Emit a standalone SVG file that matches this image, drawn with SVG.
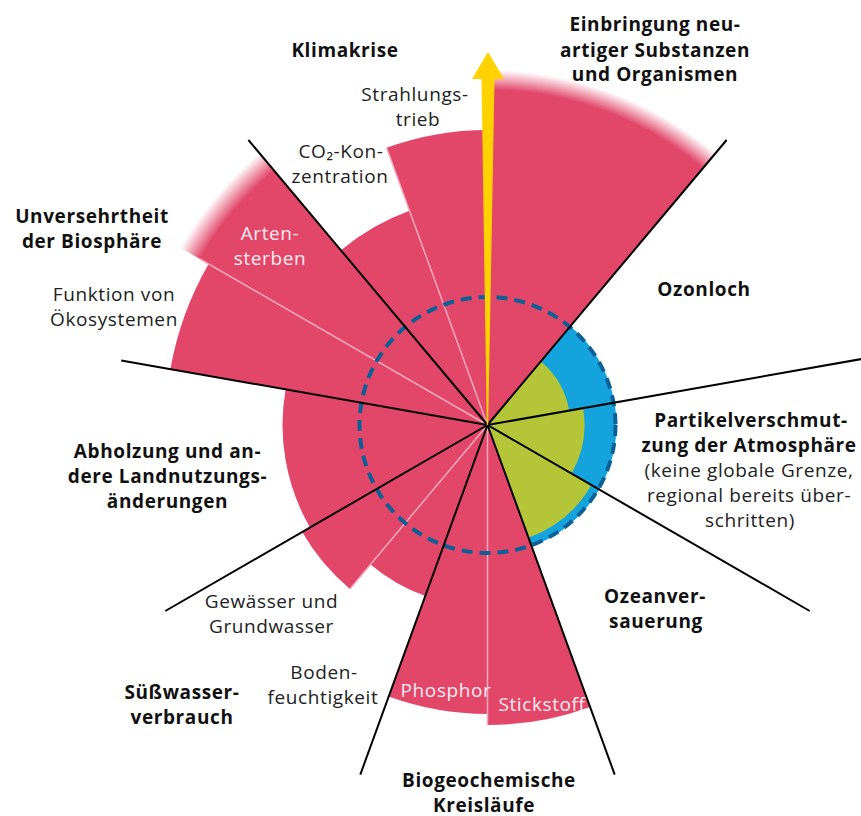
<svg xmlns="http://www.w3.org/2000/svg" width="861" height="816" viewBox="0 0 861 816">
<style>
.pink{fill:#E2476A}
.blue{fill:#14A3DC}
.green{fill:#B4C637}
.div{stroke:#F3A8BA;stroke-width:1.5;fill:none}
.spoke{stroke:#000;stroke-width:2;fill:none}
.b{font-family:"Open Sans","Liberation Sans",sans-serif;font-weight:700;font-size:19px;letter-spacing:0.6px;fill:#111;text-anchor:middle}
.r{font-family:"Open Sans","Liberation Sans",sans-serif;font-weight:400;font-size:19px;letter-spacing:0.6px;fill:#222;text-anchor:middle}
.w{font-family:"Open Sans","Liberation Sans",sans-serif;font-weight:400;font-size:19px;letter-spacing:0.6px;fill:#FDEBF0;text-anchor:middle}
</style>
<defs>
<radialGradient id="fadeA" gradientUnits="userSpaceOnUse" cx="487.5" cy="425" r="355">
<stop offset="0" stop-color="#E2476A"/>
<stop offset="0.944" stop-color="#E2476A"/>
<stop offset="1" stop-color="#E2476A" stop-opacity="0"/>
</radialGradient>
<radialGradient id="fadeB" gradientUnits="userSpaceOnUse" cx="487.5" cy="425" r="355">
<stop offset="0" stop-color="#E2476A"/>
<stop offset="0.935" stop-color="#E2476A"/>
<stop offset="1" stop-color="#E2476A" stop-opacity="0"/>
</radialGradient>
</defs>
<rect width="861" height="816" fill="#fff"/>

<g id="einbringung">
<path d="M487.5 425 L487.5 70 A355 355 0 0 1 715.7 153.1 Z" fill="url(#fadeA)"/>
<text class="b" x="655" y="31">Einbringung neu-</text>
<text class="b" x="655" y="56.5">artiger Substanzen</text>
<text class="b" x="655" y="81">und Organismen</text>
</g>

<g id="klimakrise">
<path class="pink" d="M487.5 425 L386.6 147.8 A295 295 0 0 1 487.5 130 Z"/>
<path class="pink" d="M487.5 425 L340.9 250.3 A228 228 0 0 1 409.5 210.8 Z"/>
<line class="div" x1="487.5" y1="425" x2="386.6" y2="147.8"/>
<text class="b" x="345" y="57">Klimakrise</text>
<text class="r" x="415" y="101">Strahlungs-</text>
<text class="r" x="418" y="126">trieb</text>
<text class="r" x="341" y="158">CO₂-Kon-</text>
<text class="r" x="340" y="183">zentration</text>
</g>

<g id="biosphaere">
<path d="M487.5 425 L180.1 247.5 A355 355 0 0 1 259.3 153.1 Z" fill="url(#fadeB)"/>
<path class="pink" d="M487.5 425 L170.4 369.1 A322 322 0 0 1 208.6 264 Z"/>
<line class="div" x1="487.5" y1="425" x2="200" y2="259"/>
<text class="b" x="92" y="223">Unversehrtheit</text>
<text class="b" x="92" y="248">der Biosphäre</text>
<text class="w" x="270" y="240">Arten-</text>
<text class="w" x="270" y="265">sterben</text>
<text class="r" x="114" y="301">Funktion von</text>
<text class="r" x="114" y="326">Ökosystemen</text>
</g>

<g id="landnutzung">
<path class="pink" d="M487.5 425 L310 527.5 A205 205 0 0 1 285.6 389.4 Z"/>
<text class="b" x="167.5" y="458">Abholzung und an-</text>
<text class="b" x="167.5" y="483">dere Landnutzungs-</text>
<text class="b" x="167.5" y="508">änderungen</text>
</g>

<g id="suesswasser">
<path class="pink" d="M487.5 425 L349.9 588.9 A214 214 0 0 1 302.2 532 Z"/>
<path class="pink" d="M487.5 425 L425.3 596 A182 182 0 0 1 370.5 564.4 Z"/>
<line class="div" x1="487.5" y1="425" x2="349.9" y2="588.9"/>
<text class="b" x="182" y="699">Süßwasser-</text>
<text class="b" x="182" y="724">verbrauch</text>
<text class="r" x="271.5" y="608">Gewässer und</text>
<text class="r" x="271.5" y="633">Grundwasser</text>
<text class="r" x="324" y="678.5">Boden-</text>
<text class="r" x="323" y="704">feuchtigkeit</text>
</g>

<g id="biogeochemie">
<path class="pink" d="M487.5 425 L487.5 714 A289 289 0 0 1 388.7 696.6 Z"/>
<path class="pink" d="M487.5 425 L590.1 706.9 A300 300 0 0 1 487.5 725 Z"/>
<line class="div" x1="487.5" y1="425" x2="487.5" y2="725"/>
<text class="w" x="446" y="696.5">Phosphor</text>
<text class="w" x="542" y="710.5">Stickstoff</text>
<text class="b" x="489" y="786.5">Biogeochemische</text>
<text class="b" x="484" y="811.5">Kreisläufe</text>
</g>

<g id="sicherer-bereich">
<path class="blue" d="M487.5 425 L570.4 326.2 A129 129 0 0 1 531.6 546.2 Z"/>
</g>

<g id="ozonloch">
<path class="green" d="M487.5 425 L540.9 361.4 A83 83 0 0 1 569.2 410.6 Z"/>
<text class="b" x="704" y="296">Ozonloch</text>
</g>

<g id="partikel">
<path class="green" d="M487.5 425 L583 408.2 A97 97 0 0 1 571.5 473.5 Z"/>
<text class="b" x="751" y="426.5">Partikelverschmut-</text>
<text class="b" x="749" y="451.5">zung der Atmosphäre</text>
<text class="r" x="749" y="477">(keine globale Grenze,</text>
<text class="r" x="749" y="501.5">regional bereits über-</text>
<text class="r" x="750" y="526.5">schritten)</text>
</g>

<g id="ozeanversauerung">
<path class="green" d="M487.5 425 L591.4 485 A120 120 0 0 1 528.5 537.8 Z"/>
<text class="b" x="655" y="603">Ozeanver-</text>
<text class="b" x="656" y="628">sauerung</text>
</g>

<g id="grenze">
<circle cx="487.5" cy="425" r="128" fill="none" stroke="#0B6196" stroke-width="4" stroke-dasharray="11 7"/>
</g>

<g id="connectors">
<line class="spoke" x1="487.5" y1="425" x2="726.6" y2="140"/>
<line class="spoke" x1="487.5" y1="425" x2="861.7" y2="359"/>
<line class="spoke" x1="487.5" y1="425" x2="809.7" y2="611"/>
<line class="spoke" x1="487.5" y1="425" x2="614.7" y2="774.6"/>
<line class="spoke" x1="487.5" y1="425" x2="360.3" y2="774.6"/>
<line class="spoke" x1="487.5" y1="425" x2="165.3" y2="611"/>
<line class="spoke" x1="487.5" y1="425" x2="121.2" y2="360.4"/>
<line class="spoke" x1="487.5" y1="425" x2="248.4" y2="140"/>
</g>

<g id="pfeil">
<polygon points="486.8,425 481.5,79 494.5,79 488.2,425" fill="#FFD200"/>
<polygon points="472,79 488,52 504,79" fill="#FFD200"/>
</g>
</svg>
